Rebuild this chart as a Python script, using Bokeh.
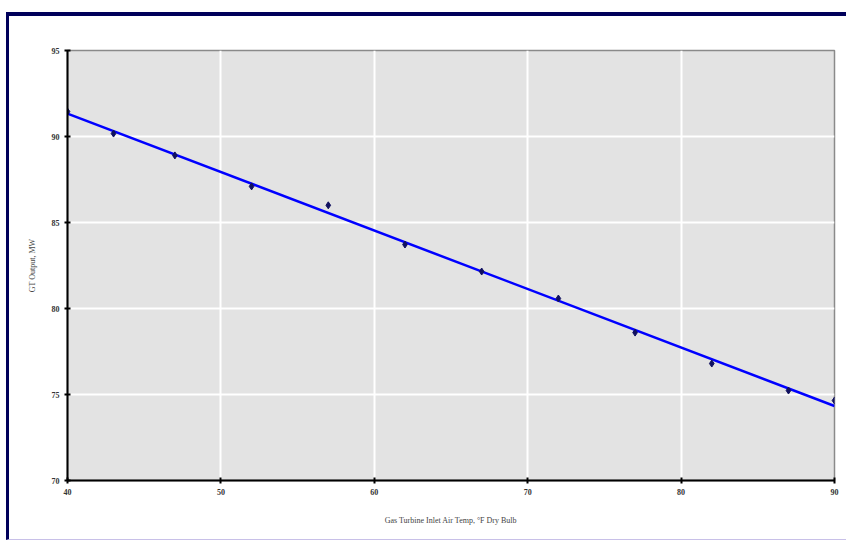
import numpy as np
from bokeh.plotting import figure
from bokeh.layouts import column
from bokeh.models import FixedTicker
from bokeh.embed import file_html
from bokeh.resources import INLINE

# data
temp_f = [40, 43, 47, 52, 57, 62, 67, 72, 77, 82, 87, 90]
gt_output_mw = [91.45, 90.17, 88.9, 87.1, 86.0, 83.72, 82.15, 80.58, 78.6, 76.8, 75.23, 74.65]
x_ticks = [40, 50, 60, 70, 80, 90]
y_ticks = [70, 75, 80, 85, 90, 95]

coef = np.polyfit(temp_f, gt_output_mw, 1)
fit_x = [min(x_ticks), max(x_ticks)]
fit_y = [coef[0] * v + coef[1] for v in fit_x]

p = figure(width=837, height=523, output_backend="svg", toolbar_location=None,
           x_range=(40, 90), y_range=(70, 95),
           min_border_left=58, min_border_right=12, min_border_top=34, min_border_bottom=59)
p.background_fill_color = "#e3e3e3"
p.border_fill_color = "white"
p.outline_line_color = "#8a8a8a"
p.outline_line_width = 1.5

for ax in (p.xaxis[0], p.yaxis[0]):
    ax.axis_line_color = "black"
    ax.axis_line_width = 2
    ax.major_tick_line_color = "black"
    ax.major_tick_line_width = 2
    ax.major_tick_in = 3
    ax.major_tick_out = 3
    ax.minor_tick_line_color = None
    ax.major_label_text_font = "Liberation Serif"
    ax.major_label_text_font_size = "8px"
    ax.major_label_text_font_style = "bold"
    ax.major_label_text_color = "#333333"
    ax.axis_label_text_font = "Liberation Serif"
    ax.axis_label_text_font_size = "8px"
    ax.axis_label_text_font_style = "normal"
    ax.axis_label_text_color = "#444444"

p.xaxis.ticker = FixedTicker(ticks=x_ticks)
p.yaxis.ticker = FixedTicker(ticks=y_ticks)
p.xaxis.axis_label = "Gas Turbine Inlet Air Temp, °F Dry Bulb"
p.yaxis.axis_label = "GT Output, MW"
p.xaxis.axis_label_standoff = 18
p.yaxis.axis_label_standoff = 12

p.xgrid.grid_line_color = "white"
p.ygrid.grid_line_color = "white"
p.xgrid.grid_line_width = 2
p.ygrid.grid_line_width = 2

p.line(fit_x, fit_y, line_color="#0000ff", line_width=2.5)
p.scatter(temp_f, gt_output_mw, marker="diamond", size=7, fill_color="#101060", line_color="#101060")

layout = column(p, styles={"margin-left": "6px", "margin-top": "12px",
                           "border-left": "3px solid #00005a",
                           "border-top": "4px solid #00005a",
                           "border-bottom": "1px solid #c8c0e8"})

open("out.html", "w").write(file_html(layout, INLINE))
